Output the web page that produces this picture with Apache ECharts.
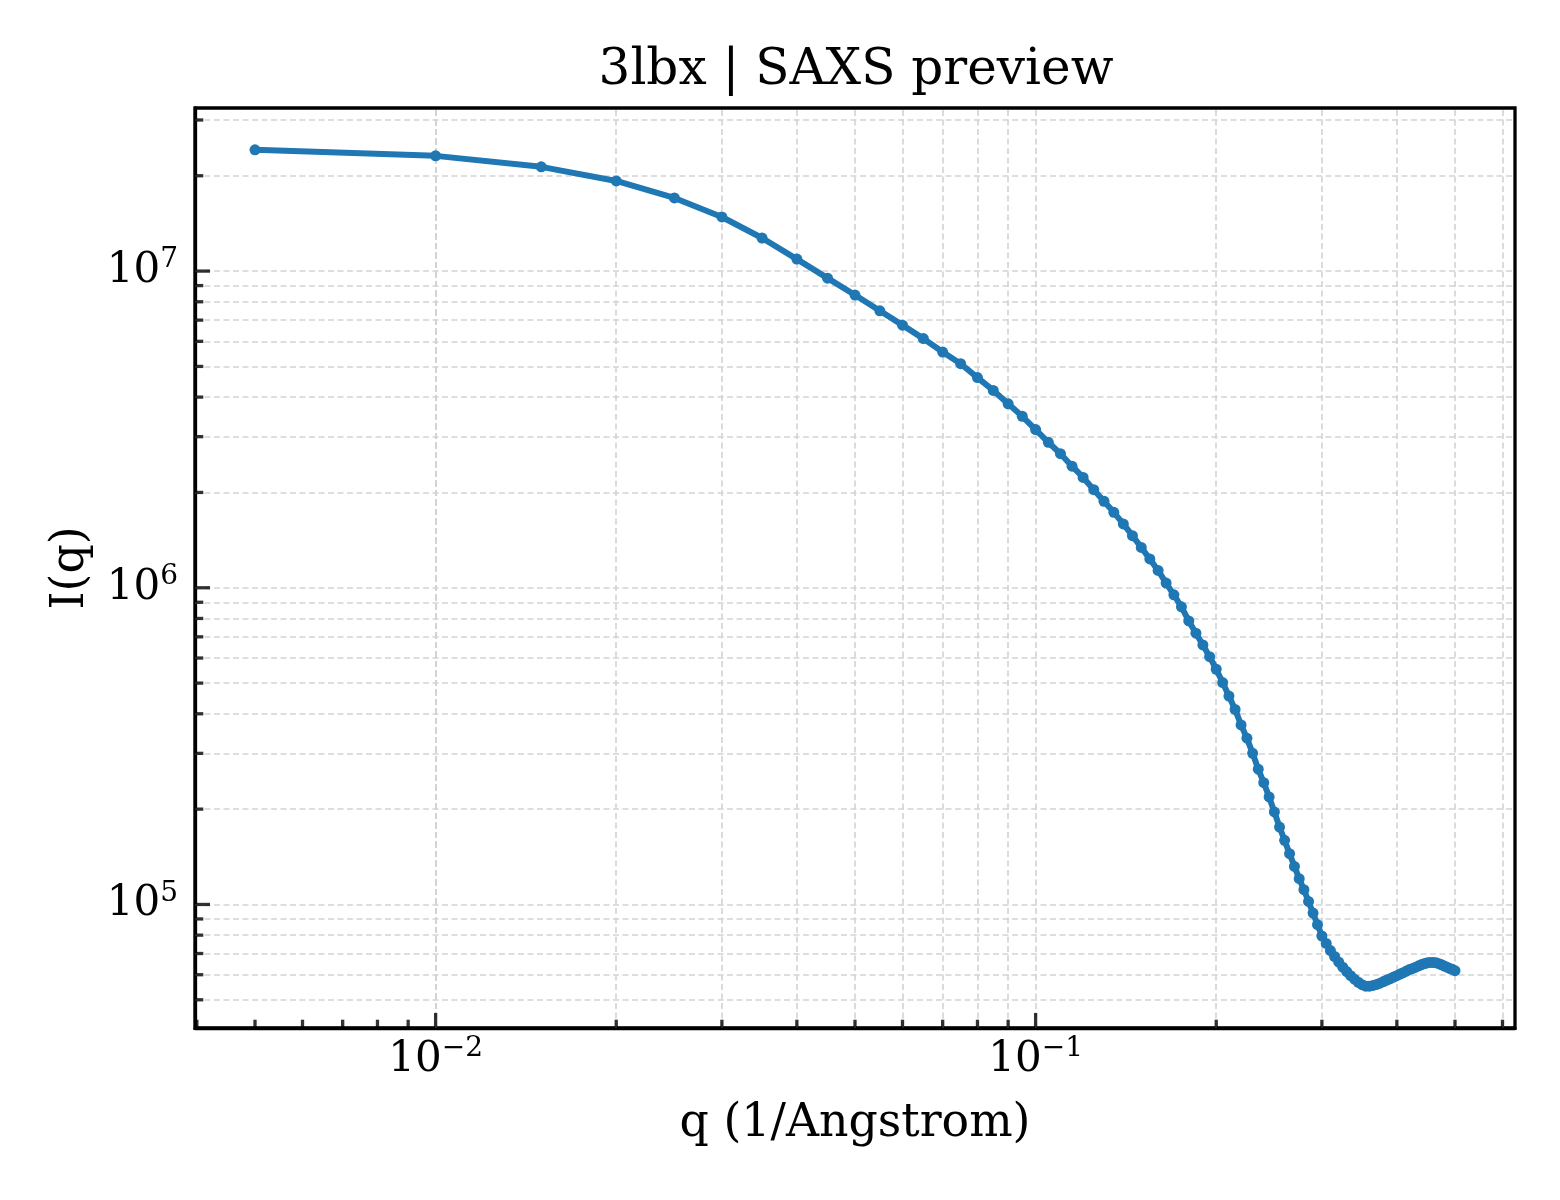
<!DOCTYPE html>
<html>
<head>
<meta charset="utf-8">
<script src="https://cdn.jsdelivr.net/npm/echarts@6/dist/echarts.min.js"></script>
<style>
html,body{margin:0;padding:0;background:#fff;}
#chart{width:1560px;height:1200px;}
</style>
</head>
<body>
<div id="chart"></div>
<script>
// ---------- data ----------
const titleText = '3lbx | SAXS preview';
const xAxisName = 'q (1/Angstrom)';
const yAxisName = 'I(q)';

const q = [
  0.005, 0.010, 0.015, 0.020, 0.025, 0.030, 0.035, 0.040, 0.045, 0.050,
  0.055, 0.060, 0.065, 0.070, 0.075, 0.080, 0.085, 0.090, 0.095, 0.100,
  0.105, 0.110, 0.115, 0.120, 0.125, 0.130, 0.135, 0.140, 0.145, 0.150,
  0.155, 0.160, 0.165, 0.170, 0.175, 0.180, 0.185, 0.190, 0.195, 0.200,
  0.205, 0.210, 0.215, 0.220, 0.225, 0.230, 0.235, 0.240, 0.245, 0.250,
  0.255, 0.260, 0.265, 0.270, 0.275, 0.280, 0.285, 0.290, 0.295, 0.300,
  0.305, 0.310, 0.315, 0.320, 0.325, 0.330, 0.335, 0.340, 0.345, 0.350,
  0.355, 0.360, 0.365, 0.370, 0.375, 0.380, 0.385, 0.390, 0.395, 0.400,
  0.405, 0.410, 0.415, 0.420, 0.425, 0.430, 0.435, 0.440, 0.445, 0.450,
  0.455, 0.460, 0.465, 0.470, 0.475, 0.480, 0.485, 0.490, 0.495, 0.500
];

const intensity = [
  2.415e7, 2.311e7, 2.134e7, 1.926e7, 1.702e7, 1.482e7, 1.272e7, 1.091e7, 9.50e6, 8.40e6,
  7.49e6, 6.75e6, 6.12e6, 5.55e6, 5.10e6, 4.61e6, 4.20e6, 3.81e6, 3.48e6, 3.16e6,
  2.88e6, 2.65e6, 2.42e6, 2.23e6, 2.04e6, 1.876e6, 1.731e6, 1.591e6, 1.461e6, 1.341e6,
  1.233e6, 1.134e6, 1.035e6, 9.50e5, 8.71e5, 7.86e5, 7.19e5, 6.60e5, 6.06e5, 5.53e5,
  5.02e5, 4.55e5, 4.13e5, 3.69e5, 3.35e5, 3.00e5, 2.675e5, 2.424e5, 2.186e5, 1.959e5,
  1.756e5, 1.594e5, 1.447e5, 1.319e5, 1.206e5, 1.113e5, 1.022e5, 9.39e4, 8.63e4, 7.95e4,
  7.53e4, 7.15e4, 6.85e4, 6.58e4, 6.34e4, 6.14e4, 5.96e4, 5.81e4, 5.68e4, 5.58e4,
  5.52e4, 5.52e4, 5.55e4, 5.59e4, 5.64e4, 5.71e4, 5.77e4, 5.83e4, 5.90e4, 5.96e4,
  6.03e4, 6.09e4, 6.16e4, 6.23e4, 6.28e4, 6.34e4, 6.40e4, 6.46e4, 6.51e4, 6.54e4,
  6.56e4, 6.56e4, 6.54e4, 6.50e4, 6.45e4, 6.39e4, 6.34e4, 6.28e4, 6.24e4, 6.18e4
];

const xMajorTicks = [0.01, 0.1];
const yMajorTicks = [1e5, 1e6, 1e7];
const xMinorTicks = [
  0.004, 0.005, 0.006, 0.007, 0.008, 0.009,
  0.02, 0.03, 0.04, 0.05, 0.06, 0.07, 0.08, 0.09,
  0.2, 0.3, 0.4, 0.5, 0.6
];
const yMinorTicks = [
  5e4, 6e4, 7e4, 8e4, 9e4,
  2e5, 3e5, 4e5, 5e5, 6e5, 7e5, 8e5, 9e5,
  2e6, 3e6, 4e6, 5e6, 6e6, 7e6, 8e6, 9e6,
  2e7, 3e7
];

// ---------- helpers ----------
const FONT = 'DejaVu Serif';
function logLimits(arr) {
  const lo = Math.log10(Math.min.apply(null, arr));
  const hi = Math.log10(Math.max.apply(null, arr));
  const m = (hi - lo) * 0.05;
  return [Math.pow(10, lo - m), Math.pow(10, hi + m)];
}
const [xMin, xMax] = logLimits(q);
const [yMin, yMax] = logLimits(intensity);

function powLabel(v) {
  const e = Math.log10(v);
  const r = Math.round(e);
  if (Math.abs(e - r) > 1e-6) return '';
  const ex = r < 0 ? '\u2212' + (-r) : String(r);
  return '{b|10}{s|' + ex + '}';
}
const richLabel = {
  b: { fontFamily: FONT, fontSize: 42, lineHeight: 50, color: '#000' },
  s: { fontFamily: FONT, fontSize: 28, lineHeight: 30, verticalAlign: 'top', color: '#000' }
};
const gridLine = { color: '#d3d3d3', width: 1.6, type: [6, 3.5] };
const spine = { color: '#000', width: 3.3 };
const TICK_W = 3.3, MAJOR_L = 15, MINOR_L = 8.3;

function tickSeries(name, data, horizontal, len) {
  return {
    type: 'scatter', name: name, data: data,
    symbol: 'rect',
    symbolSize: horizontal ? [len, TICK_W] : [TICK_W, len],
    symbolOffset: horizontal ? [len / 2, 0] : [0, -len / 2],
    itemStyle: { color: '#000' }, clip: false, z: 4, silent: true
  };
}

const gridValues = xMajorTicks.concat(xMinorTicks).map(v => ({ xAxis: v }))
  .concat(yMajorTicks.concat(yMinorTicks).map(v => ({ yAxis: v })));

const xMinorSeries = tickSeries('xMinor', xMinorTicks.map(v => [v, yMin]), false, MINOR_L);
xMinorSeries.markLine = {
  silent: true, z: 1, symbol: ['none', 'none'], label: { show: false },
  lineStyle: gridLine, emphasis: { disabled: true }, animation: false,
  data: gridValues
};

const chart = echarts.init(document.getElementById('chart'), null, { renderer: 'canvas' });
chart.setOption({
  animation: false,
  backgroundColor: '#fff',
  title: {
    text: titleText,
    left: 851, top: 41, textAlign: 'center',
    textStyle: { fontFamily: FONT, fontSize: 50, fontWeight: 'normal', color: '#000' }
  },
  grid: {
    left: 195, right: 45, top: 108, bottom: 172,
    show: true, borderColor: '#000', borderWidth: 3.3, backgroundColor: 'transparent'
  },
  xAxis: [{
    type: 'log', logBase: 10, min: xMin, max: xMax,
    name: xAxisName, nameLocation: 'middle', nameGap: 73,
    nameTextStyle: { fontFamily: FONT, fontSize: 45.8, color: '#000' },
    axisLine: { show: true, lineStyle: spine },
    axisTick: { show: false },
    axisLabel: { margin: 7, formatter: powLabel, rich: richLabel, showMinLabel: false, showMaxLabel: false },
    splitLine: { show: false }
  }],
  yAxis: [{
    type: 'log', logBase: 10, min: yMin, max: yMax,
    name: yAxisName, nameLocation: 'middle', nameGap: 101, nameRotate: 90,
    nameTextStyle: { fontFamily: FONT, fontSize: 45.8, color: '#000' },
    axisLine: { show: true, lineStyle: spine },
    axisTick: { show: false },
    axisLabel: { margin: 17, formatter: powLabel, rich: richLabel, showMinLabel: false, showMaxLabel: false },
    splitLine: { show: false }
  }],
  series: [
    xMinorSeries,
    tickSeries('yMinor', yMinorTicks.map(v => [xMin, v]), true, MINOR_L),
    tickSeries('xMajor', xMajorTicks.map(v => [v, yMin]), false, MAJOR_L),
    tickSeries('yMajor', yMajorTicks.map(v => [xMin, v]), true, MAJOR_L),
    {
      type: 'line', name: 'I(q)',
      data: q.map((x, i) => [x, intensity[i]]),
      symbol: 'circle', symbolSize: 11, showSymbol: true, showAllSymbol: true,
      lineStyle: { color: '#1f77b4', width: 6 },
      itemStyle: { color: '#1f77b4' },
      z: 3, silent: true
    }
  ]
});
</script>
</body>
</html>
